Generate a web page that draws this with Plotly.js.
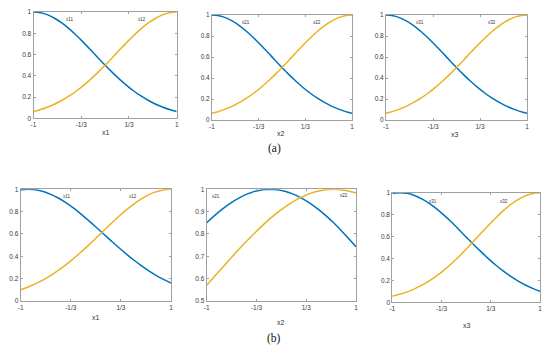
<!DOCTYPE html>
<html>
<head>
<meta charset="utf-8">
<script src="https://cdn.plot.ly/plotly-3.0.1.min.js"></script>
<style>html,body{margin:0;padding:0;background:#fff;}#chart{width:550px;height:355px;}</style>
</head>
<body>
<div id="chart"></div>
<script>
// x sample positions
const xs = [-1,-0.9,-0.8,-0.7,-0.6,-0.5,-0.4,-0.3,-0.2,-0.1,0,0.1,0.2,0.3,0.4,0.5,0.6,0.7,0.8,0.9,1];

// (a) panels: all three panels show the same pair of curves
const a1Blue   = [1,0.993,0.973,0.939,0.895,0.841,0.779,0.712,0.642,0.570,0.5,0.432,0.369,0.310,0.257,0.210,0.170,0.135,0.106,0.082,0.063];
const a1Orange = [0.063,0.082,0.106,0.135,0.170,0.210,0.257,0.310,0.369,0.432,0.5,0.570,0.642,0.712,0.779,0.841,0.895,0.939,0.973,0.993,1];
const a2Blue   = a1Blue.slice();
const a2Orange = a1Orange.slice();
const a3Blue   = a1Blue.slice();
const a3Orange = a1Orange.slice();

// (b) panels
const b1Blue   = [0.995,1,0.995,0.980,0.955,0.922,0.881,0.833,0.780,0.722,0.663,0.602,0.541,0.481,0.424,0.369,0.319,0.272,0.230,0.193,0.160];
const b1Orange = [0.100,0.125,0.155,0.189,0.229,0.274,0.323,0.378,0.436,0.498,0.562,0.627,0.692,0.754,0.813,0.866,0.912,0.950,0.977,0.994,1];
const b2Blue   = [0.850,0.881,0.909,0.934,0.955,0.973,0.986,0.995,0.999,0.999,0.995,0.986,0.973,0.955,0.934,0.909,0.881,0.850,0.816,0.780,0.743];
const b2Orange = [0.570,0.608,0.646,0.683,0.720,0.756,0.790,0.823,0.854,0.883,0.909,0.932,0.953,0.969,0.983,0.992,0.998,1,0.998,0.992,0.983];
const b3Blue   = [0.994,1,0.994,0.975,0.944,0.903,0.853,0.795,0.732,0.665,0.596,0.528,0.462,0.399,0.340,0.286,0.238,0.195,0.158,0.127,0.100];
const b3Orange = [0.055,0.073,0.095,0.123,0.156,0.196,0.241,0.294,0.352,0.416,0.484,0.556,0.629,0.701,0.770,0.834,0.890,0.937,0.971,0.993,1];

// tick labels
const xTickVals = [-1,-1/3,1/3,1];
const xTickText = ['-1','-1/3','1/3','1'];
const yTickVals01 = [0,0.2,0.4,0.6,0.8,1];
const yTickText01 = ['0','0.2','0.4','0.6','0.8','1'];
const yTickValsHalf = [0.5,0.6,0.7,0.8,0.9,1];
const yTickTextHalf = ['0.5','0.6','0.7','0.8','0.9','1'];

const axisTitles = ['x1','x2','x3','x1','x2','x3'];
const curveLabels = [['x11','x12'],['x21','x22'],['x31','x32'],['x11','x12'],['x21','x22'],['x31','x32']];

const BLUE = '#0072BD', ORANGE = '#EDB120';
const panels = [
  {blue:a1Blue, orange:a1Orange, px:[33.5,176.7], py:[12,118.3], yr:[0,1], half:false, lab:[[-0.50,0.934],[0.515,0.934]], title:[106,133]},
  {blue:a2Blue, orange:a2Orange, px:[212,352], py:[15,120], yr:[0,1], half:false, lab:[[-0.51,0.927],[0.505,0.927]], title:[281,134]},
  {blue:a3Blue, orange:a3Orange, px:[386,527], py:[15,120], yr:[0,1], half:false, lab:[[-0.52,0.927],[0.50,0.927]], title:[455,135]},
  {blue:b1Blue, orange:b1Orange, px:[20.7,171], py:[189.3,301], yr:[0,1], half:false, lab:[[-0.39,0.934],[0.497,0.934]], title:[96,317]},
  {blue:b2Blue, orange:b2Orange, px:[206.7,356], py:[189.3,301], yr:[0.5,1], half:true, lab:[[-0.875,0.933],[0.842,0.944]], title:[281,322]},
  {blue:b3Blue, orange:b3Orange, px:[392.3,540], py:[192.7,302.3], yr:[0,1], half:false, lab:[[-0.445,0.918],[0.507,0.918]], title:[467,325]}
];

const W = 550, H = 355;
const SANS = 'Liberation Sans, Arial, Helvetica, sans-serif';
const data = [];
const layout = {
  width: W, height: H,
  margin: {l:0, r:0, t:0, b:0},
  paper_bgcolor: '#ffffff', plot_bgcolor: '#ffffff',
  showlegend: false,
  font: {family: SANS, color: '#333'},
  annotations: []
};

const axCommon = {
  showline: true, linecolor: '#a0a0a0', linewidth: 1, mirror: 'ticks',
  ticks: 'inside', ticklen: 2, tickcolor: '#a0a0a0', tickwidth: 1,
  showgrid: false, zeroline: false,
  tickfont: {size: 6.5, color: '#3a3a3a', family: SANS},
  fixedrange: true
};

panels.forEach((p, i) => {
  const n = i + 1;
  const xa = n === 1 ? 'x' : 'x' + n;
  const ya = n === 1 ? 'y' : 'y' + n;
  const xkey = n === 1 ? 'xaxis' : 'xaxis' + n;
  const ykey = n === 1 ? 'yaxis' : 'yaxis' + n;
  layout[xkey] = Object.assign({}, axCommon, {
    domain: [p.px[0]/W, p.px[1]/W], anchor: ya, range: [-1, 1],
    tickmode: 'array', tickvals: xTickVals, ticktext: xTickText
  });
  layout[ykey] = Object.assign({}, axCommon, {
    domain: [1 - p.py[1]/H, 1 - p.py[0]/H], anchor: xa, range: p.yr,
    tickmode: 'array',
    tickvals: p.half ? yTickValsHalf : yTickVals01,
    ticktext: p.half ? yTickTextHalf : yTickText01
  });
  data.push({x: xs, y: p.blue, xaxis: xa, yaxis: ya, type: 'scatter', mode: 'lines',
             line: {color: BLUE, width: 1.5, shape: 'spline'}, hoverinfo: 'skip'});
  data.push({x: xs, y: p.orange, xaxis: xa, yaxis: ya, type: 'scatter', mode: 'lines',
             line: {color: ORANGE, width: 1.5, shape: 'spline'}, hoverinfo: 'skip'});
  // curve labels
  for (let k = 0; k < 2; k++) {
    const yv = p.yr[0] + p.lab[k][1] * (p.yr[1] - p.yr[0]);
    layout.annotations.push({x: p.lab[k][0], y: yv, xref: xa, yref: ya, text: curveLabels[i][k],
      showarrow: false, font: {size: 4.5, color: '#333', family: SANS}, xanchor: 'center', yanchor: 'middle'});
  }
  // x axis title
  layout.annotations.push({x: p.title[0]/W, y: 1 - p.title[1]/H, xref: 'paper', yref: 'paper',
    text: axisTitles[i], showarrow: false, font: {size: 7, color: '#333', family: SANS}, xanchor: 'center', yanchor: 'middle'});
});

// sub-figure captions
layout.annotations.push({x: 274/W, y: 1 - 148/H, xref: 'paper', yref: 'paper', text: '(a)', showarrow: false,
  font: {size: 11.5, color: '#111', family: 'Liberation Serif, serif'}, xanchor: 'center', yanchor: 'middle'});
layout.annotations.push({x: 274/W, y: 1 - 338/H, xref: 'paper', yref: 'paper', text: '(b)', showarrow: false,
  font: {size: 11.5, color: '#111', family: 'Liberation Serif, serif'}, xanchor: 'center', yanchor: 'middle'});

Plotly.newPlot('chart', data, layout, {staticPlot: true, displayModeBar: false});
</script>
</body>
</html>
